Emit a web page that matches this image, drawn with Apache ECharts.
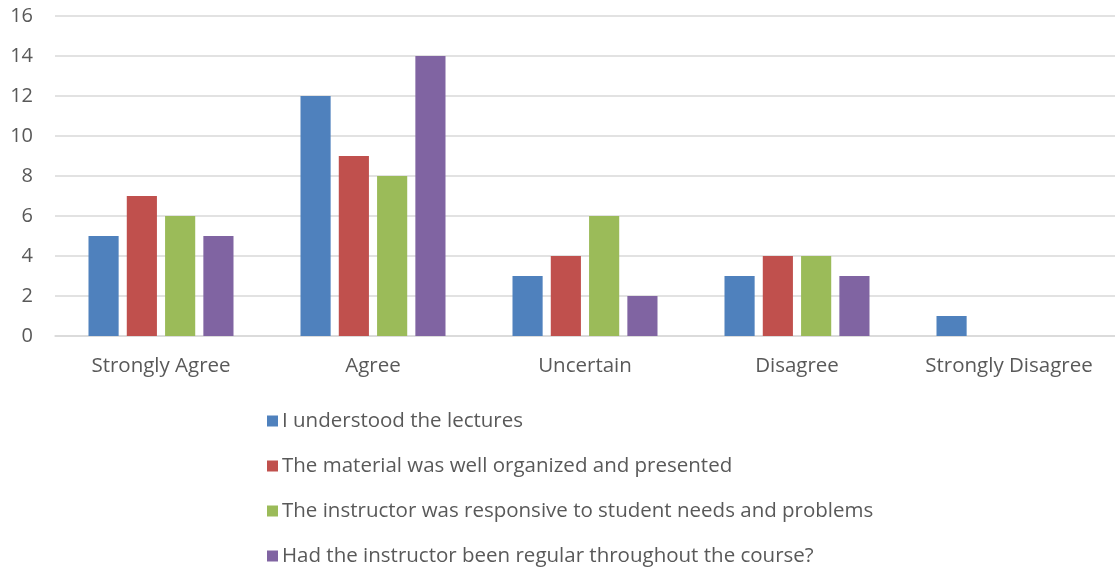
<!DOCTYPE html>
<html>
<head>
<meta charset="utf-8" />
<title></title>
<script src="https://cdn.jsdelivr.net/npm/echarts@6/dist/echarts.min.js"></script>
<style>
  html, body { margin: 0; padding: 0; background: #fff; }
  #chart { width: 1115px; height: 571px; }
</style>
</head>
<body>
<div id="chart"></div>
<script>
var categories = ['Strongly Agree', 'Agree', 'Uncertain', 'Disagree', 'Strongly Disagree'];
var seriesNames = [
  'I understood the lectures',
  'The material was well organized and presented',
  'The instructor was responsive to student needs and problems',
  'Had the instructor been regular throughout the course?'
];
var lectures = [5, 12, 3, 3, 1];
var material = [7, 9, 4, 4, 0];
var instructor = [6, 8, 6, 4, 0];
var regular = [5, 14, 2, 3, 0];
var colors = ['#4F81BD', '#C0504D', '#9BBB59', '#8064A2'];

var chart = echarts.init(document.getElementById('chart'));
var allData = [lectures, material, instructor, regular];
var font = 'Open Sans';

var option = {
  animation: false,
  color: colors,
  grid: { left: 55, right: 0, top: 16, bottom: 235, containLabel: false },
  legend: {
    orient: 'vertical',
    left: 262,
    top: 404,
    height: 170,
    itemWidth: 11,
    itemHeight: 11,
    itemGap: 21,
    icon: 'rect',
    data: seriesNames,
    textStyle: { color: '#595959', fontSize: 20.5, fontFamily: font, padding: [0, 0, 0, -1], lineHeight: 24 }
  },
  xAxis: {
    type: 'category',
    data: categories,
    axisLine: { lineStyle: { color: '#D9D9D9', width: 1.5 } },
    axisTick: { show: false },
    axisLabel: { color: '#595959', fontSize: 20.5, fontFamily: font, margin: 20, interval: 0 }
  },
  yAxis: {
    type: 'value',
    min: 0,
    max: 16,
    interval: 2,
    axisLine: { show: false },
    axisTick: { show: false },
    splitLine: { lineStyle: { color: '#D9D9D9', width: 1.5 } },
    axisLabel: { color: '#595959', fontSize: 20, fontFamily: font, margin: 22 }
  },
  series: seriesNames.map(function (name, i) {
    return {
      name: name,
      type: 'bar',
      data: allData[i],
      barGap: '27%',
      barCategoryGap: '31.6%'
    };
  })
};
chart.setOption(option);
</script>
</body>
</html>
